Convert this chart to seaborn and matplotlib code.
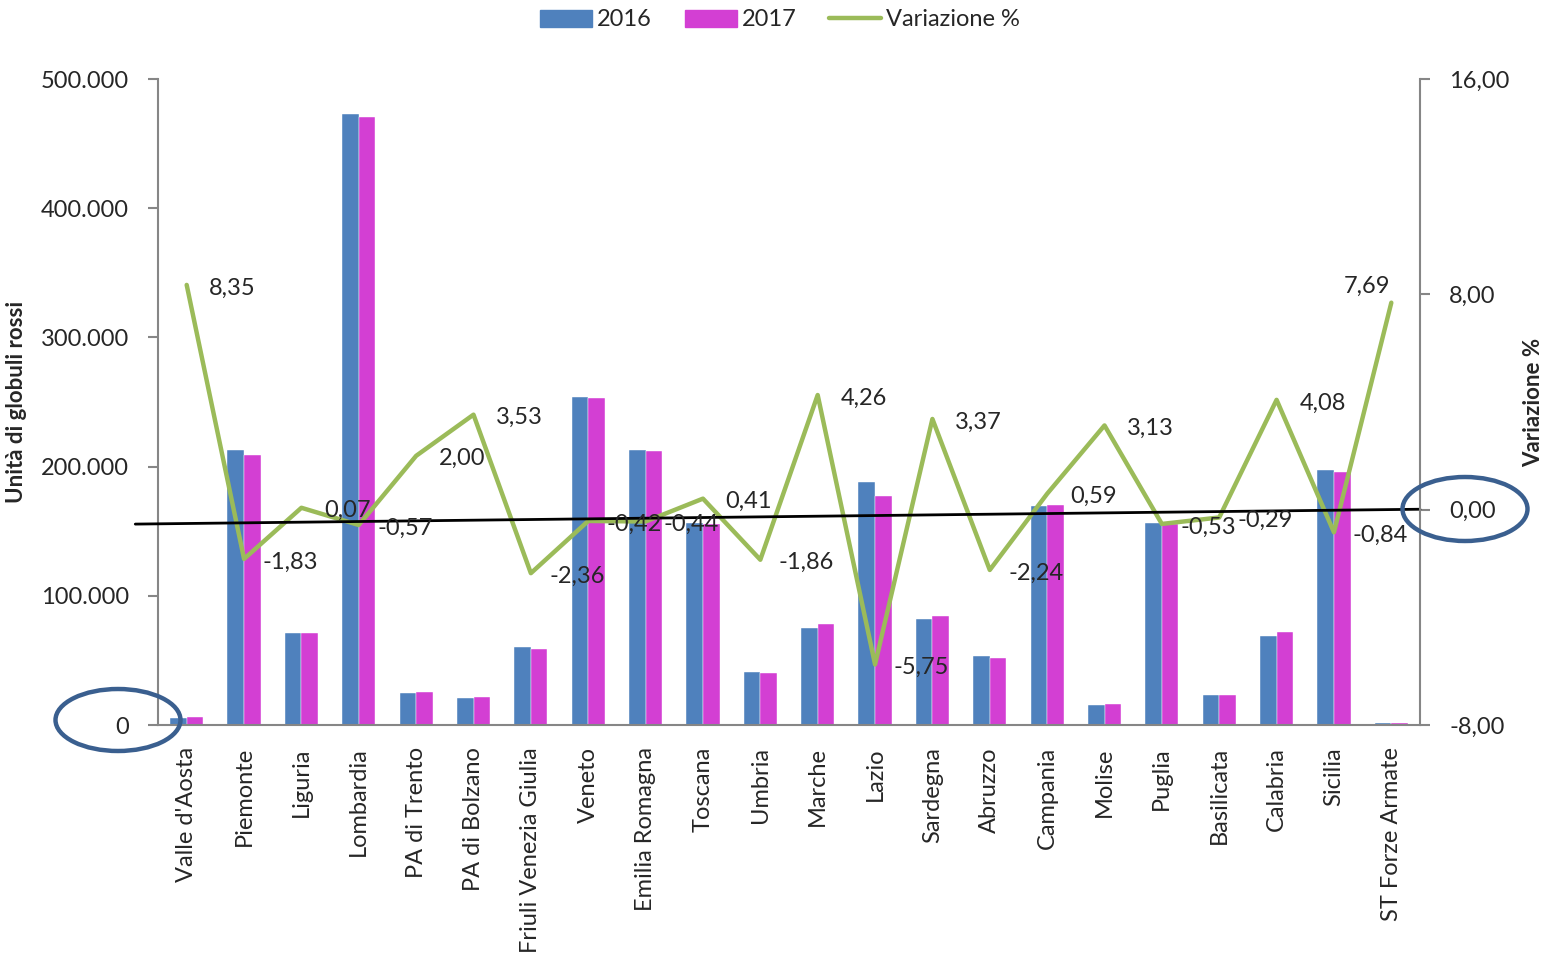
import matplotlib as mpl
import matplotlib.pyplot as plt
import numpy as np
import pandas as pd
import seaborn as sns
from matplotlib.lines import Line2D
from matplotlib.patches import Ellipse, Patch
from matplotlib.ticker import FuncFormatter


regioni = ["Valle d'Aosta", 'Piemonte', 'Liguria', 'Lombardia', 'PA di Trento',
           'PA di Bolzano', 'Friuli Venezia Giulia', 'Veneto', 'Emilia Romagna',
           'Toscana', 'Umbria', 'Marche', 'Lazio', 'Sardegna', 'Abruzzo',
           'Campania', 'Molise', 'Puglia', 'Basilicata', 'Calabria', 'Sicilia',
           'ST Forze Armate']
unita_2016 = [5400, 212800, 71200, 473000, 24800, 20900, 60400, 253900, 212800,
              156000, 41000, 75100, 188000, 82000, 53400, 169500, 15500, 156300,
              23200, 68900, 197400, 1500]
unita_2017 = [5850, 208900, 71250, 470300, 25300, 21650, 58950, 252800, 211900,
              155300, 40250, 78300, 177200, 84750, 52200, 170500, 16000, 155500,
              23130, 71700, 195700, 1620]
variazione = [8.35, -1.83, 0.07, -0.57, 2.00, 3.53, -2.36, -0.42, -0.44, 0.41,
              -1.86, 4.26, -5.75, 3.37, -2.24, 0.59, 3.13, -0.53, -0.29, 4.08,
              -0.84, 7.69]

c2016 = '#4F81BD'
c2017 = '#D33FD3'
cvar = '#9BBB59'
grigio = '#868686'

sns.set_style('white')
plt.rcParams['font.family'] = ['Lato', 'DejaVu Sans']
plt.rcParams['font.size'] = 17

df = pd.DataFrame({
    'regione': regioni * 2,
    'anno': ['2016'] * len(regioni) + ['2017'] * len(regioni),
    'unita': unita_2016 + unita_2017,
})

fig = plt.figure(figsize=(15.44, 9.6), dpi=100)
ax = fig.add_axes([158 / 1544, 235 / 960, 1262 / 1544, 646 / 960])

sns.barplot(data=df, x='regione', y='unita', hue='anno', order=regioni,
            palette={'2016': c2016, '2017': c2017}, width=0.58, gap=0,
            saturation=1, edgecolor='white', linewidth=0.3, ax=ax, legend=False)
ax.set_xlim(-0.5, len(regioni) - 0.5)
ax.set_ylim(0, 500000)
ax.set_yticks(range(0, 500001, 100000))
ax.yaxis.set_major_formatter(FuncFormatter(lambda v, p: f'{int(v):,}'.replace(',', '.')))
ax.set_xlabel('')
ax.set_ylabel('Unità di globuli rossi', fontweight='bold', fontsize=16, labelpad=10)

# tick at category boundaries, labels at centres
ax.set_xticks(np.arange(-0.5, len(regioni), 1.0))
ax.set_xticklabels([])
ax.set_xticks(np.arange(len(regioni)), minor=True)
ax.set_xticklabels(regioni, minor=True, rotation=90)
ax.tick_params(axis='x', which='major', direction='out', length=8, color=grigio, width=1.5)
ax.tick_params(axis='x', which='minor', length=0, pad=16)
ax.tick_params(axis='y', direction='out', length=7, color=grigio, width=1.5, pad=14)
for s in ['top', 'right']:
    ax.spines[s].set_visible(False)
for s in ['left', 'bottom']:
    ax.spines[s].set_color(grigio)
    ax.spines[s].set_linewidth(1.5)

ax2 = ax.twinx()
sns.lineplot(x=np.arange(len(regioni)), y=variazione, color=cvar, linewidth=3.2,
             ax=ax2)
ax2.set_ylim(-8, 16)
ax2.set_yticks([-8, 0, 8, 16])
ax2.yaxis.set_major_formatter(FuncFormatter(lambda v, p: f'{v:.2f}'.replace('.', ',')))
ax2.set_ylabel('Variazione %', fontweight='bold', fontsize=16, labelpad=10)
ax2.tick_params(axis='y', direction='out', length=7, color=grigio, width=1.5, pad=14)
for s in ['top', 'left', 'bottom']:
    ax2.spines[s].set_visible(False)
ax2.spines['right'].set_color(grigio)
ax2.spines['right'].set_linewidth(1.5)
ax2.set_xlim(-0.5, len(regioni) - 0.5)

for i, v in enumerate(variazione):
    off = (46, -3) if i < len(variazione) - 1 else (-24, 16)
    ax2.annotate(f'{v:.2f}'.replace('.', ','), (i, v), xytext=off,
                 textcoords='offset pixels', ha='center', va='center')

# hand-drawn reference line and circles
ax2.plot([-0.018, 1.0], [0.311, 0.334], transform=ax.transAxes, color='black',
         linewidth=2, clip_on=False)
fig.patches.append(Ellipse((118 / 1544, 1 - 720 / 960), 125 / 1544, 62 / 960,
                           transform=fig.transFigure, fill=False,
                           edgecolor='#3A5F8F', linewidth=3.2))
fig.patches.append(Ellipse((1465 / 1544, 1 - 509 / 960), 125 / 1544, 64 / 960,
                           transform=fig.transFigure, fill=False,
                           edgecolor='#3A5F8F', linewidth=3.2))

handles = [Patch(color=c2016, label='2016'), Patch(color=c2017, label='2017'),
           Line2D([], [], color=cvar, linewidth=3.2, label='Variazione %')]
fig.legend(handles=handles, loc='center', bbox_to_anchor=(780 / 1544, 1 - 20 / 960),
           ncol=3, frameon=False, handlelength=2.2, handleheight=0.7,
           columnspacing=1.4, handletextpad=0.2)

fig.savefig('out.png', dpi=100)
